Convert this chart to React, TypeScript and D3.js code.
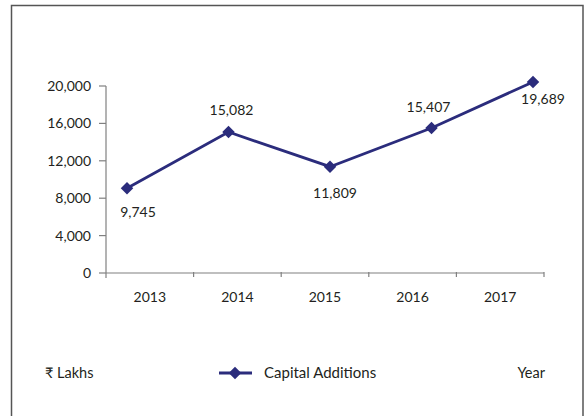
import { useEffect, useRef } from "react"
import * as d3 from "d3"

// Data
const years = ["2013", "2014", "2015", "2016", "2017"]
// where the markers sit on the value axis
const plottedValues = [9060, 15080, 11370, 15510, 20430]
// the printed data labels
const valueLabels = ["9,745", "15,082", "11,809", "15,407", "19,689"]
const yTicks = [0, 4000, 8000, 12000, 16000, 20000]

const seriesName = "Capital Additions"
const yUnit = "₹ Lakhs"
const xName = "Year"

export default function App() {
  const svgRef = useRef<SVGSVGElement>(null)

  useEffect(() => {
    const svg = d3.select(svgRef.current)
    svg.selectAll("*").remove()

    const W = 585
    const H = 416
    const font = "Lato, 'Noto Sans', sans-serif"
    const textColor = "#231f20"
    const axisColor = "#808080"
    const lineColor = "#2b2c7c"

    svg.attr("width", W).attr("height", H).style("font-family", font)

    svg.append("rect").attr("width", W).attr("height", H).attr("fill", "#fff")

    // outer frame
    svg.append("rect")
      .attr("x", 11.5).attr("y", 5.5)
      .attr("width", 571.5).attr("height", 430)
      .attr("fill", "none")
      .attr("stroke", "#555")
      .attr("stroke-width", 1.5)

    const left = 106
    const right = 544
    const top = 86
    const bottom = 273

    const y = d3.scaleLinear().domain([0, 20000]).range([bottom, top])
    const x = d3.scaleBand().domain(years).range([left, right])
    // markers were drawn on a slightly wider spread than the categories
    const xp = d3.scalePoint().domain(years).range([127, 533])

    // y axis
    const yAxis = svg.append("g").attr("transform", `translate(${left},0)`)
    yAxis.append("line")
      .attr("x1", 0).attr("x2", 0)
      .attr("y1", top).attr("y2", bottom + 5)
      .attr("stroke", axisColor).attr("stroke-width", 1.2)
    yTicks.forEach(t => {
      yAxis.append("line")
        .attr("x1", -7).attr("x2", 0)
        .attr("y1", y(t)).attr("y2", y(t))
        .attr("stroke", axisColor).attr("stroke-width", 1.2)
      yAxis.append("text")
        .attr("x", -15).attr("y", y(t) + 5)
        .attr("text-anchor", "end")
        .attr("font-size", 14)
        .attr("fill", textColor)
        .text(d3.format(",")(t))
    })

    // x axis
    const xAxis = svg.append("g")
    xAxis.append("line")
      .attr("x1", left).attr("x2", right)
      .attr("y1", bottom).attr("y2", bottom)
      .attr("stroke", axisColor).attr("stroke-width", 1.2)
    years.forEach(yr => {
      const x1 = x(yr)! + x.bandwidth()
      xAxis.append("line")
        .attr("x1", x1).attr("x2", x1)
        .attr("y1", bottom - 1).attr("y2", bottom + 4)
        .attr("stroke", axisColor).attr("stroke-width", 1.2)
      xAxis.append("text")
        .attr("x", x(yr)! + x.bandwidth() / 2)
        .attr("y", bottom + 29)
        .attr("text-anchor", "middle")
        .attr("font-size", 14)
        .attr("fill", textColor)
        .text(yr)
    })

    // series line
    const pts = years.map((yr, i) => [xp(yr)!, y(plottedValues[i])] as [number, number])
    svg.append("path")
      .attr("d", d3.line()(pts))
      .attr("fill", "none")
      .attr("stroke", lineColor)
      .attr("stroke-width", 2.8)

    const diamond = d3.symbol().type(d3.symbolDiamond2).size(100)
    svg.selectAll(".pt")
      .data(pts)
      .enter()
      .append("path")
      .attr("class", "pt")
      .attr("transform", d => `translate(${d[0]},${d[1]})`)
      .attr("d", diamond()!)
      .attr("fill", lineColor)

    // label placement next to each marker
    const labelOffset = [[11, 29], [3, -17], [5, 31], [-3, -16], [10, 22]]
    svg.selectAll(".lbl")
      .data(pts)
      .enter()
      .append("text")
      .attr("class", "lbl")
      .attr("x", (d, i) => d[0] + labelOffset[i][0])
      .attr("y", (d, i) => d[1] + labelOffset[i][1])
      .attr("text-anchor", "middle")
      .attr("font-size", 14)
      .attr("fill", textColor)
      .text((d, i) => valueLabels[i])

    // bottom legend row
    const ly = 373
    svg.append("text")
      .attr("x", 45).attr("y", ly + 5)
      .attr("font-size", 14.5).attr("fill", textColor)
      .text(yUnit)
    svg.append("line")
      .attr("x1", 219).attr("x2", 252)
      .attr("y1", ly).attr("y2", ly)
      .attr("stroke", lineColor).attr("stroke-width", 2.8)
    svg.append("path")
      .attr("transform", `translate(235,${ly})`)
      .attr("d", diamond()!)
      .attr("fill", lineColor)
    svg.append("text")
      .attr("x", 264).attr("y", ly + 5)
      .attr("font-size", 15).attr("fill", textColor)
      .text(seriesName)
    svg.append("text")
      .attr("x", 545).attr("y", ly + 5)
      .attr("text-anchor", "end")
      .attr("font-size", 14.5).attr("fill", textColor)
      .text(xName)
  }, [])

  return (
    <div style={{ position: "absolute", left: 0, top: 0 }}>
      <svg ref={svgRef} style={{ display: "block" }}></svg>
    </div>
  )
}
